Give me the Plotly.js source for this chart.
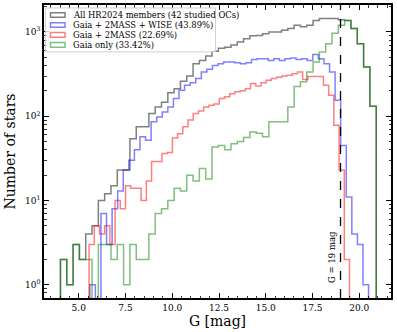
<!DOCTYPE html>
<html><head><meta charset="utf-8">
<script src="https://cdn.plot.ly/plotly-3.0.1.min.js"></script>
<style>body{margin:0;background:#fff}#chart{width:397px;height:332px}</style>
</head><body><div id="chart"></div>
<script>
// Histogram ranges (min, max of G) and number of bins per series
const nBins = 50;
const rangeAll = [4.02, 20.91];
const rangeWise = [5.59, 20.50];
const rangeTm = [5.55, 19.48];
const rangeGaia = [4.02, 20.91];

// Counts per bin
const countsAll = [2,1,3,2,4,5,10,12,15,23,23,54,75,75,108,129,147,190,212,260,300,420,460,520,590,640,660,700,760,830,900,910,950,1000,1000,1050,1100,1200,1150,1200,1370,1440,1440,1440,1400,1368,1100,724,383,131];
const countsWise = [1,0,7,3,8,13,23,30,40,57,52,86,98,112,129,162,204,233,250,280,335,360,400,420,440,440,430,420,430,470,480,480,460,480,460,480,490,470,480,460,540,480,420,335,155,45,11,4,3,1];
const countsTm = [3,5,4,5,3,10,8,15,14,14,10,17,29,29,36,37,55,62,75,90,108,115,129,135,140,162,170,185,195,200,212,244,228,250,267,280,290,300,307,320,335,272,297,297,297,233,177,78,23,2];
const countsGaia = [2,1,3,2,2,0,3,3,2,3,1,3,2,2,4,7,8,10,14,13,20,17,24,18,43,45,40,47,50,56,65,63,57,86,86,86,129,226,256,334,440,577,724,968,1200,1368,1100,724,383,131];

const legendLabels = ['All HR2024 members (42 studied OCs)','Gaia + 2MASS + WISE (43.89%)','Gaia + 2MASS (22.69%)','Gaia only (33.42%)'];
const colors = ['rgba(0,0,0,0.5)','rgba(0,0,255,0.5)','rgba(255,0,0,0.5)','rgba(0,128,0,0.5)'];
const cutMag = 19;
const xTickVals = [5,7.5,10,12.5,15,17.5,20];
const yTickVals = [1,10,100,1000];
const yTickText = ['10<sup>0</sup>','10<sup>1</sup>','10<sup>2</sup>','10<sup>3</sup>'];

function stepTrace(range, counts, color){
  const w = (range[1]-range[0])/nBins;
  const floor = 0.01;
  const xs = [range[0]], ys = [floor];
  counts.forEach((c,i)=>{ xs.push(range[0]+i*w); ys.push(c>0?c:floor); });
  xs.push(range[1]); ys.push(floor);
  return {x:xs, y:ys, type:'scatter', mode:'lines', line:{shape:'hv', color:color, width:1.5}, hoverinfo:'skip', showlegend:false};
}

const traces = [
  stepTrace(rangeAll, countsAll, colors[0]),
  stepTrace(rangeWise, countsWise, colors[1]),
  stepTrace(rangeTm, countsTm, colors[2]),
  stepTrace(rangeGaia, countsGaia, colors[3])
];

// plot-area geometry helpers (pixels -> paper)
const L=44, R=391, T=4.5, B=298.3;
const px = v => (v-L)/(R-L);
const py = v => (B-v)/(B-T);

const font = 'DejaVu Serif, serif';
const shapes = [
  {type:'line', xref:'x', yref:'paper', x0:cutMag, x1:cutMag, y0:0, y1:1, line:{color:'black', width:1.3, dash:'dash'}},
  {type:'rect', xref:'paper', yref:'paper', x0:px(45.5), x1:px(215.5), y0:py(7.5), y1:py(51.5), line:{color:'rgba(204,204,204,0.9)', width:1}, fillcolor:'rgba(255,255,255,0.8)', layer:'above'}
];
const annotations = [
  {xref:'x', yref:'y', x:cutMag, y:0.325, text:'G = 19 mag', textangle:-90, showarrow:false, xanchor:'right', xshift:-1, font:{family:font, size:8.5, color:'black'}}
];
const rowY = [14.5, 24.5, 34.5, 44.5];
legendLabels.forEach((lab,i)=>{
  shapes.push({type:'rect', xref:'paper', yref:'paper', x0:px(50.5), x1:px(65), y0:py(rowY[i]+2.3), y1:py(rowY[i]-2.3), line:{color:colors[i], width:1.5}, layer:'above'});
  annotations.push({xref:'paper', yref:'paper', x:px(71), y:py(rowY[i]), text:lab, showarrow:false, xanchor:'left', yanchor:'middle', font:{family:font, size:8.4, color:'black'}});
});

const layout = {
  width:397, height:332,
  margin:{l:L, r:397-R, t:T, b:332-B},
  paper_bgcolor:'white', plot_bgcolor:'white',
  showlegend:false,
  font:{family:font, color:'black', size:9},
  xaxis:{range:[3.14,21.7], tickvals:xTickVals, ticktext:xTickVals.map(v=>v.toFixed(1)), ticks:'inside', ticklen:5, tickwidth:1, tickcolor:'black',
    showline:true, linecolor:'black', linewidth:1.8, mirror:'allticks', showgrid:false, zeroline:false,
    minor:{dtick:0.5, tick0:0, ticks:'inside', ticklen:2.5, tickwidth:0.8, tickcolor:'black', showgrid:false},
    title:{text:'G [mag]', font:{family:font, size:14}, standoff:4}, tickfont:{family:font, size:9}},
  yaxis:{type:'log', range:[-0.157,3.32], tickvals:yTickVals, ticktext:yTickText, ticks:'inside', ticklen:5, tickwidth:1, tickcolor:'black',
    showline:true, linecolor:'black', linewidth:1.8, mirror:'allticks', showgrid:false, zeroline:false,
    minor:{dtick:'D1', ticks:'inside', ticklen:2.5, tickwidth:0.8, tickcolor:'black', showgrid:false},
    title:{text:'Number of stars', font:{family:font, size:14}, standoff:6}, tickfont:{family:font, size:9}},
  shapes:shapes, annotations:annotations
};
Plotly.newPlot('chart', traces, layout, {staticPlot:true, displayModeBar:false});
</script></body></html>
